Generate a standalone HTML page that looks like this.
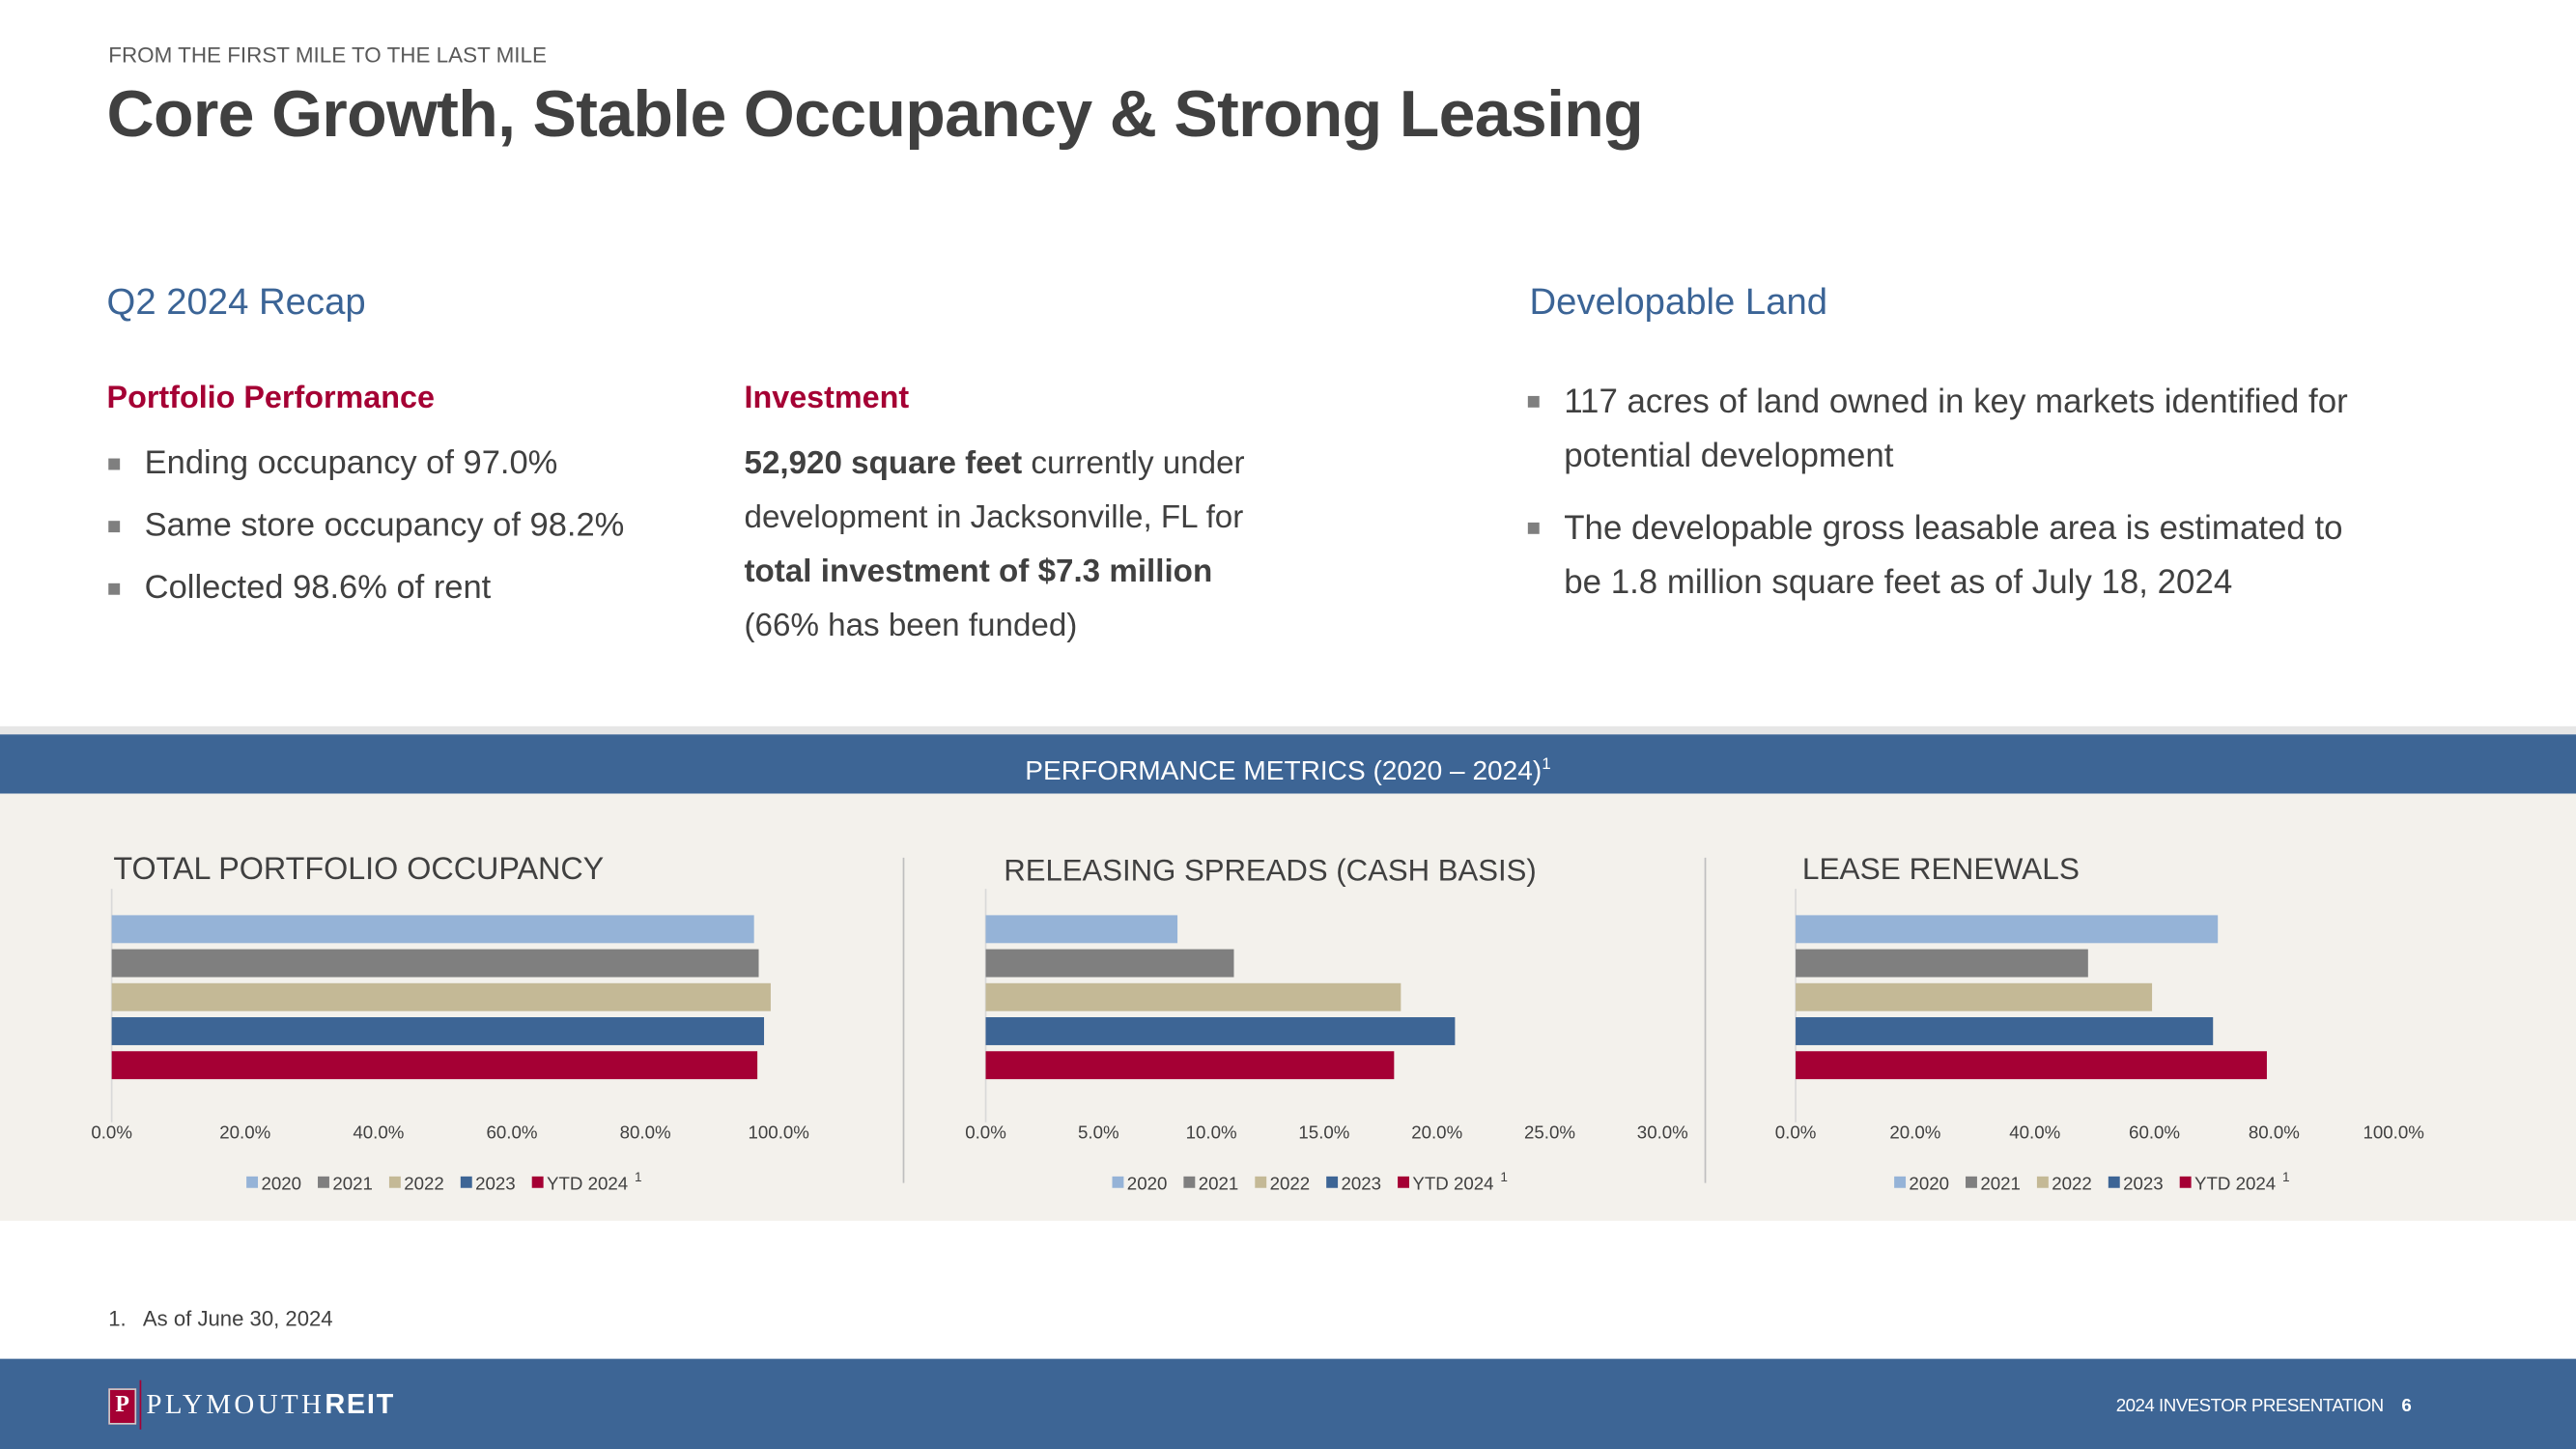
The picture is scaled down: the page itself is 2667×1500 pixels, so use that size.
<!DOCTYPE html>
<html><head><meta charset="utf-8">
<style>
html,body{margin:0;padding:0;width:2667px;height:1500px;overflow:hidden;background:#fff}
#s{position:absolute;left:0;top:0;width:1568px;height:882px;transform:scale(1.70089);transform-origin:0 0;font-family:"Liberation Sans",sans-serif;color:#404040}
.a{position:absolute;white-space:nowrap}
.b{position:absolute;font-size:20.3px;line-height:33px;white-space:nowrap}
.sq{display:inline-block;width:7px;height:7px;background:#7f7f7f;position:absolute;left:-22px;top:13px}
</style></head><body>
<div id="s">
<div class="a" style="left:66px;top:26px;font-size:13.2px;color:#595959">FROM THE FIRST MILE TO THE LAST MILE</div>
<div class="a" style="left:65px;top:48px;font-size:40px;font-weight:bold;color:#404040;letter-spacing:-0.4px">Core Growth, Stable Occupancy &amp; Strong Leasing</div>
<div class="a" style="left:65px;top:171px;font-size:22.5px;color:#3b6496">Q2 2024 Recap</div>
<div class="a" style="left:931px;top:171px;font-size:22.5px;color:#3b6496">Developable Land</div>
<div class="a" style="left:65px;top:232px;font-size:19px;font-weight:bold;color:#a50034">Portfolio Performance</div>
<div class="a" style="left:453px;top:232px;font-size:19px;font-weight:bold;color:#a50034">Investment</div>
<div class="b" style="left:88px;top:266px"><span class="sq"></span>Ending occupancy of 97.0%</div>
<div class="b" style="left:88px;top:304px"><span class="sq"></span>Same store occupancy of 98.2%</div>
<div class="b" style="left:88px;top:342px"><span class="sq"></span>Collected 98.6% of rent</div>
<div class="b" style="left:453px;top:266px;font-size:19.5px"><b>52,920 square feet</b> currently under<br>development in Jacksonville, FL for<br><b>total investment of $7.3 million</b><br>(66% has been funded)</div>
<div class="b" style="left:952px;top:228px;font-size:20.5px"><span class="sq"></span>117 acres of land owned in key markets identified for<br>potential development</div>
<div class="b" style="left:952px;top:305px;font-size:20.5px"><span class="sq"></span>The developable gross leasable area is estimated to<br>be 1.8 million square feet as of July 18, 2024</div>
<div class="a" style="left:0;top:442px;width:1568px;height:5px;background:#e6e6e6"></div>
<div class="a" style="left:0;top:447px;width:1568px;height:36px;background:#3d6595;color:#fff;font-size:16.5px;line-height:38px;text-align:center">PERFORMANCE METRICS (2020 – 2024)<sup style="font-size:10px">1</sup></div>
<div class="a" style="left:0;top:483px;width:1568px;height:260px;background:#f3f1ec"></div>
<svg id="ch" class="a" style="left:0;top:0" width="1568" height="882"></svg>
<div class="a" style="left:66px;top:795px;font-size:13px;color:#404040">1.&nbsp;&nbsp; As of June 30, 2024</div>
<div class="a" style="left:0;top:827px;width:1568px;height:55px;background:#3d6595"></div>
<div class="a" style="left:66px;top:845px;width:15px;height:20px;background:#a50034;border:1px solid #ccc;color:#fff;font:bold 14px 'Liberation Serif',serif;text-align:center;line-height:20px">P</div>
<div class="a" style="left:85px;top:840px;width:1px;height:30px;background:#a50034"></div>
<div class="a" style="left:89px;top:845px;font:17px 'Liberation Serif',serif;color:#fff;letter-spacing:2px">PLYMOUTH<b style="font-family:'Liberation Sans';letter-spacing:1px">REIT</b></div>
<div class="a" style="left:1288px;top:850px;font-size:11px;color:#fff;letter-spacing:-0.3px">2024 INVESTOR PRESENTATION &nbsp;&nbsp;&nbsp;<b>6</b></div>
</div>
<script>
const categories=['2020','2021','2022','2023','YTD 2024'];
const occupancyValues=[96.3,97.0,98.8,97.8,96.8];
const spreadValues=[8.5,11.0,18.4,20.8,18.1];
const renewalValues=[70.6,48.9,59.6,69.8,78.8];
const occupancyTicks=['0.0%','20.0%','40.0%','60.0%','80.0%','100.0%'];
const spreadTicks=['0.0%','5.0%','10.0%','15.0%','20.0%','25.0%','30.0%'];
const renewalTicks=['0.0%','20.0%','40.0%','60.0%','80.0%','100.0%'];
const colors=['#95b3d7','#7f7f7f','#c4b996','#3d6595','#a50034'];
const NS='http://www.w3.org/2000/svg';
const svg=document.getElementById('ch');
function mk(t,at,txt){const e=document.createElementNS(NS,t);for(const k in at)e.setAttribute(k,at[k]);if(txt!=null)e.textContent=txt;svg.appendChild(e);return e;}
function chart(key,title,titleX,titleY,tsize,x0,x1,max,vals,ticks,legX){
  const sx=v=>x0+(v/max)*(x1-x0);
  let t=mk('text',{x:titleX,y:titleY,'font-size':tsize,fill:'#404040','font-family':'Liberation Sans'},title);
  
  
  let ax=mk('line',{x1:x0,x2:x0,y1:541,y2:683,stroke:'#d9d9d9','stroke-width':1});
  
  
  vals.forEach((v,i)=>{
    const r=mk('rect',{x:x0,y:557+i*20.7,width:sx(v)-x0,height:17,fill:colors[i]});
    
    
  });
  ticks.forEach((tk,i)=>{
    const v=max*i/(ticks.length-1);
    const l=mk('text',{x:sx(v),y:693,'font-size':11,fill:'#404040','text-anchor':'middle','font-family':'Liberation Sans'},tk);
    
    
  });
  let lx=legX;
  categories.forEach((c,i)=>{
    const s=mk('rect',{x:lx,y:716,width:7,height:7,fill:colors[i]});
    
    
    const tx=mk('text',{x:lx+9,y:724,'font-size':11,fill:'#404040','font-family':'Liberation Sans'},c);
    
    
    lx+=9+tx.getComputedTextLength()+10;
  });
  const sp=mk('text',{x:lx-6,y:719,'font-size':8,fill:'#404040','font-family':'Liberation Sans'},'1');
  
  
}
chart('occupancy','TOTAL PORTFOLIO OCCUPANCY',69,535,19,68,474,100,occupancyValues,occupancyTicks,150);
chart('spreads','RELEASING SPREADS (CASH BASIS)',611,536,18.3,600,1012,30,spreadValues,spreadTicks,677);
chart('renewals','LEASE RENEWALS',1097,535,18.6,1093,1457,100,renewalValues,renewalTicks,1153);
[550,1038].forEach(x=>{const d=mk('line',{x1:x,x2:x,y1:522,y2:720,stroke:'#bfbfbf','stroke-width':1});

});
</script>
</body></html>
